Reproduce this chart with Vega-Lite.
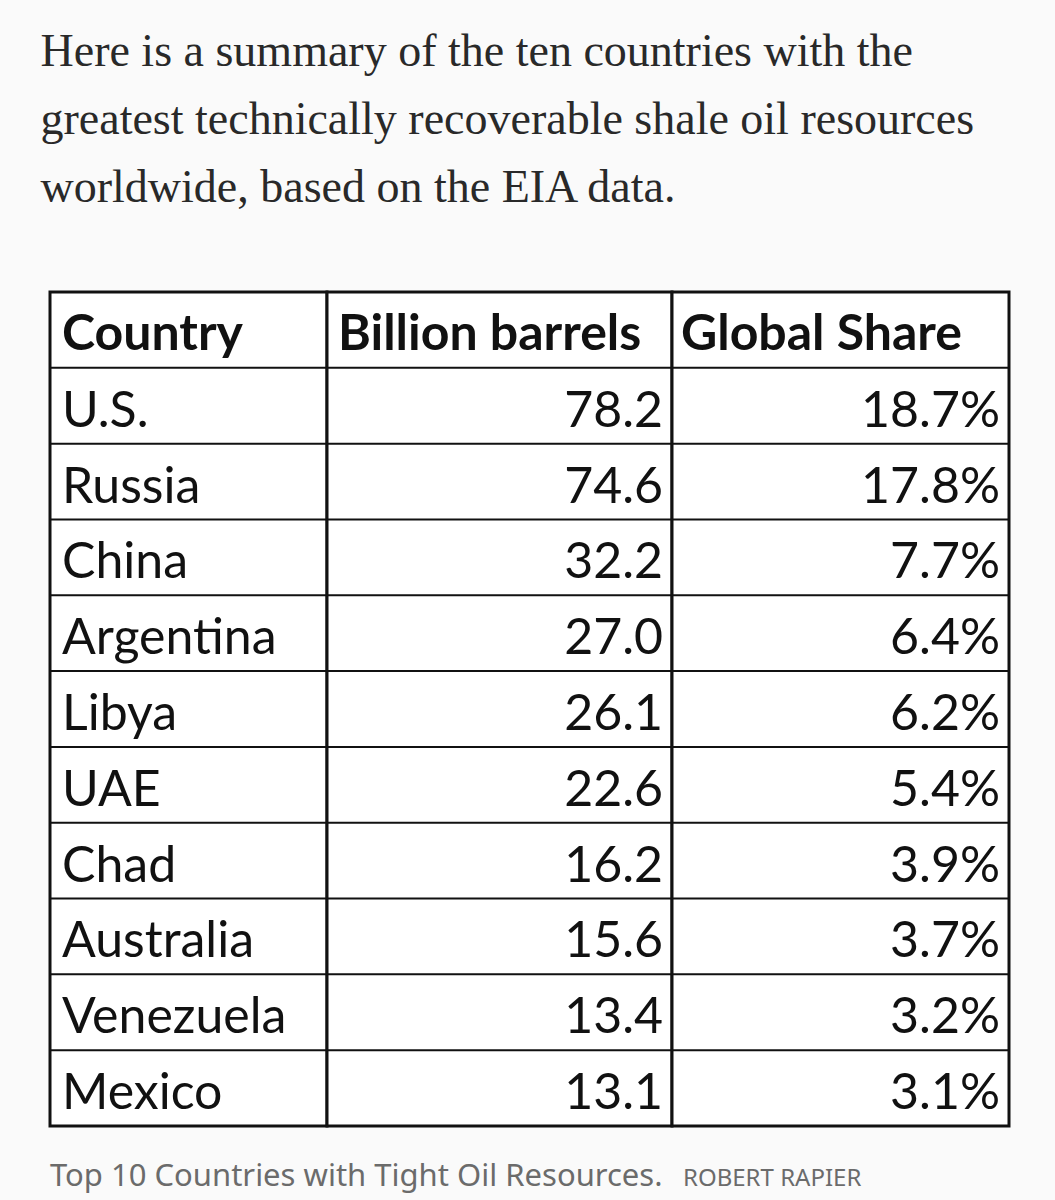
{
  "$schema": "https://vega.github.io/schema/vega-lite/v6.json",
  "background": "#fafafa",
  "padding": {"left": 40, "top": 28, "right": 46, "bottom": 15},
  "title": {
    "text": ["Here is a summary of the ten countries with the", "greatest technically recoverable shale oil resources", "worldwide, based on the EIA data."],
    "anchor": "start",
    "font": "Liberation Serif",
    "fontSize": 46,
    "fontWeight": "normal",
    "color": "#292929",
    "lineHeight": 68,
    "dx": -7,
    "offset": 79
  },
  "datasets": {
    "header": [{"row": 0, "country": "Country", "barrels": "Billion barrels", "share": "Global Share"}],
    "table": [
      {"row": 1, "country": "U.S.", "barrels": 78.2, "share": 0.187},
      {"row": 2, "country": "Russia", "barrels": 74.6, "share": 0.178},
      {"row": 3, "country": "China", "barrels": 32.2, "share": 0.077},
      {"row": 4, "country": "Argentina", "barrels": 27.0, "share": 0.064},
      {"row": 5, "country": "Libya", "barrels": 26.1, "share": 0.062},
      {"row": 6, "country": "UAE", "barrels": 22.6, "share": 0.054},
      {"row": 7, "country": "Chad", "barrels": 16.2, "share": 0.039},
      {"row": 8, "country": "Australia", "barrels": 15.6, "share": 0.037},
      {"row": 9, "country": "Venezuela", "barrels": 13.4, "share": 0.032},
      {"row": 10, "country": "Mexico", "barrels": 13.1, "share": 0.031}
    ],
    "caption": [
      {"part": "caption", "label": "Top 10 Countries with Tight Oil Resources."},
      {"part": "credit", "label": "ROBERT RAPIER"}
    ]
  },
  "spacing": 20,
  "vconcat": [
    {
      "bounds": "flush",
      "spacing": 0,
      "hconcat": [
        {
          "width": 277,
          "height": 834,
          "layer": [
            {
              "data": {"name": "table"},
              "mark": {"type": "rule", "stroke": "#111", "strokeWidth": 2},
              "encoding": {
                "y": {"field": "row", "type": "ordinal", "bandPosition": 0, "axis": null,
                  "scale": {"type": "band", "domain": [0,1,2,3,4,5,6,7,8,9,10], "paddingInner": 0, "paddingOuter": 0}}
              }
            },
            {
              "data": {"name": "header"},
              "mark": {"type": "text", "align": "left", "baseline": "alphabetic", "dx": 12, "dy": 20, "font": "Lato", "fontSize": 50, "fontWeight": "bold", "color": "#111"},
              "encoding": {
                "x": {"datum": "c", "type": "nominal", "bandPosition": 0, "axis": null, "scale": {"type": "band", "paddingInner": 0, "paddingOuter": 0}},
                "y": {"field": "row", "type": "ordinal", "axis": null},
                "text": {"field": "country"}
              }
            },
            {
              "data": {"name": "table"},
              "mark": {"type": "text", "align": "left", "baseline": "alphabetic", "dx": 12, "dy": 21, "font": "Lato", "fontSize": 50, "color": "#111"},
              "encoding": {
                "x": {"datum": "c", "type": "nominal", "bandPosition": 0, "axis": null},
                "y": {"field": "row", "type": "ordinal", "axis": null},
                "text": {"field": "country"}
              }
            }
          ]
        },
        {
          "width": 345,
          "height": 834,
          "layer": [
            {
              "data": {"name": "table"},
              "mark": {"type": "rule", "stroke": "#111", "strokeWidth": 2},
              "encoding": {
                "y": {"field": "row", "type": "ordinal", "bandPosition": 0, "axis": null,
                  "scale": {"type": "band", "domain": [0,1,2,3,4,5,6,7,8,9,10], "paddingInner": 0, "paddingOuter": 0}}
              }
            },
            {
              "data": {"name": "header"},
              "mark": {"type": "text", "align": "left", "baseline": "alphabetic", "dx": 11, "dy": 20, "font": "Lato", "fontSize": 50, "fontWeight": "bold", "color": "#111"},
              "encoding": {
                "x": {"datum": "c", "type": "nominal", "bandPosition": 0, "axis": null, "scale": {"type": "band", "paddingInner": 0, "paddingOuter": 0}},
                "y": {"field": "row", "type": "ordinal", "axis": null},
                "text": {"field": "barrels"}
              }
            },
            {
              "data": {"name": "table"},
              "mark": {"type": "text", "align": "right", "baseline": "alphabetic", "dx": -9, "dy": 21, "font": "Lato", "fontSize": 50, "color": "#111"},
              "encoding": {
                "x": {"datum": "c", "type": "nominal", "bandPosition": 1, "axis": null},
                "y": {"field": "row", "type": "ordinal", "axis": null},
                "text": {"field": "barrels", "type": "quantitative", "format": ".1f"}
              }
            }
          ]
        },
        {
          "width": 337,
          "height": 834,
          "layer": [
            {
              "data": {"name": "table"},
              "mark": {"type": "rule", "stroke": "#111", "strokeWidth": 2},
              "encoding": {
                "y": {"field": "row", "type": "ordinal", "bandPosition": 0, "axis": null,
                  "scale": {"type": "band", "domain": [0,1,2,3,4,5,6,7,8,9,10], "paddingInner": 0, "paddingOuter": 0}}
              }
            },
            {
              "data": {"name": "header"},
              "mark": {"type": "text", "align": "left", "baseline": "alphabetic", "dx": 9, "dy": 20, "font": "Lato", "fontSize": 50, "fontWeight": "bold", "color": "#111"},
              "encoding": {
                "x": {"datum": "c", "type": "nominal", "bandPosition": 0, "axis": null, "scale": {"type": "band", "paddingInner": 0, "paddingOuter": 0}},
                "y": {"field": "row", "type": "ordinal", "axis": null},
                "text": {"field": "share"}
              }
            },
            {
              "data": {"name": "table"},
              "mark": {"type": "text", "align": "right", "baseline": "alphabetic", "dx": -9, "dy": 21, "font": "Lato", "fontSize": 50, "color": "#111"},
              "encoding": {
                "x": {"datum": "c", "type": "nominal", "bandPosition": 1, "axis": null},
                "y": {"field": "row", "type": "ordinal", "axis": null},
                "text": {"field": "share", "type": "quantitative", "format": ".1%"}
              }
            }
          ]
        }
      ]
    },
    {
      "width": 633,
      "height": 40,
      "view": {"stroke": null, "fill": null},
      "data": {"name": "caption"},
      "encoding": {
        "x": {"field": "part", "type": "nominal", "axis": null, "scale": {"type": "point", "domain": ["caption", "credit"], "padding": 0}},
        "text": {"field": "label"}
      },
      "layer": [
        {
          "transform": [{"filter": "datum.part === 'caption'"}],
          "mark": {"type": "text", "align": "left", "baseline": "alphabetic", "dy": 18, "font": "Noto Sans", "fontSize": 31, "color": "#6b6b6b"}
        },
        {
          "transform": [{"filter": "datum.part === 'credit'"}],
          "mark": {"type": "text", "align": "left", "baseline": "alphabetic", "dy": 18, "font": "Noto Sans", "fontSize": 24, "color": "#6b6b6b"}
        }
      ]
    }
  ],
  "config": {
    "view": {"stroke": "#111", "strokeWidth": 3, "fill": "white"}
  }
}
